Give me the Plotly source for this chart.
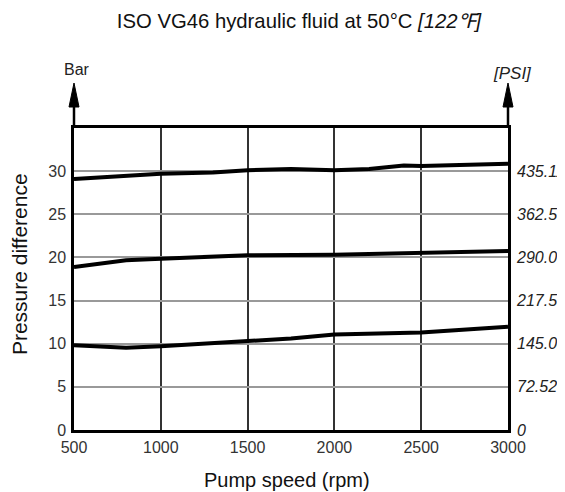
import plotly.graph_objects as go

# ---- data ----
speed_high = [500, 1000, 1300, 1500, 1750, 2000, 2200, 2400, 2500, 3000]
dp_high = [29.1, 29.7, 29.85, 30.1, 30.25, 30.1, 30.25, 30.65, 30.6, 30.85]

speed_mid = [500, 800, 1000, 1500, 2000, 2500, 3000]
dp_mid = [18.9, 19.67, 19.86, 20.25, 20.32, 20.52, 20.75]

speed_low = [500, 800, 1000, 1500, 1750, 2000, 2500, 3000]
dp_low = [9.83, 9.53, 9.72, 10.34, 10.6, 11.07, 11.3, 11.96]

x_ticks = [500, 1000, 1500, 2000, 2500, 3000]
bar_ticks = [0, 5, 10, 15, 20, 25, 30]
psi_labels = ["0", "72.52", "145.04", "217.56", "290.08", "362.59", "435.11"]

FONT = "Liberation Sans, Arial, Helvetica, sans-serif"

# the page has an 8px body margin, so the figure is 8px smaller than the window
W, H = 557, 484
ML, MT, PW, PH = 66, 120, 434, 302

fig = go.Figure()
for xs, ys in [(speed_high, dp_high), (speed_mid, dp_mid), (speed_low, dp_low)]:
    fig.add_trace(go.Scatter(x=xs, y=ys, mode="lines",
                             line=dict(color="#000000", width=4),
                             showlegend=False, hoverinfo="skip"))
# invisible trace so the PSI axis is drawn
fig.add_trace(go.Scatter(x=[x_ticks[0]], y=[bar_ticks[0]], yaxis="y2", mode="markers",
                         marker=dict(opacity=0), showlegend=False, hoverinfo="skip"))

fig.update_layout(
    width=W, height=H,
    margin=dict(l=ML, r=W - ML - PW, t=MT, b=H - MT - PH, autoexpand=False),
    paper_bgcolor="white", plot_bgcolor="white",
    font=dict(family=FONT, color="#222"),
    title=dict(text="ISO VG46 hydraulic fluid at 50°C <i>[122℉]</i>",
               font=dict(size=20.3, color="#111"),
               x=291 / W, xref="container", xanchor="center",
               y=1 - 13 / H, yref="container", yanchor="middle"),
    xaxis=dict(range=[500, 3000], tickvals=x_ticks, ticks="",
               showgrid=True, gridcolor="#333", gridwidth=1.5,
               showline=True, linecolor="#000", linewidth=2.5, mirror=True,
               tickfont=dict(size=16, color="#333"), zeroline=False,
               ticklabelstandoff=1, automargin=False),
    yaxis=dict(range=[0, 35], tickvals=bar_ticks, ticks="",
               showgrid=True, gridcolor="#999", gridwidth=2,
               showline=True, linecolor="#000", linewidth=2.5, mirror=True,
               tickfont=dict(size=16, color="#333"), zeroline=False,
               ticklabelstandoff=2, automargin=False),
    yaxis2=dict(range=[0, 35], overlaying="y", side="right",
                tickvals=bar_ticks, ticktext=psi_labels, ticks="",
                showgrid=False, showline=False, zeroline=False,
                tickfont=dict(size=16, color="#222", style="italic"),
                ticklabelstandoff=8, automargin=False),
)

# axis titles and unit labels
fig.add_annotation(text="Pump speed (rpm)", xref="paper", yref="paper",
                   x=0.491, y=-0.164, xanchor="center", yanchor="middle",
                   showarrow=False, font=dict(size=20, color="#111"))
fig.add_annotation(text="Pressure difference", xref="paper", yref="paper",
                   x=-0.1256, y=0.551, xanchor="center", yanchor="middle",
                   textangle=-90, showarrow=False, borderpad=0,
                   font=dict(size=21, color="#111"))
fig.add_annotation(text="Bar", xref="paper", yref="paper",
                   x=0.006, y=1.195, xanchor="center", yanchor="middle",
                   showarrow=False, font=dict(size=16, color="#222"))
fig.add_annotation(text="<i>[PSI]</i>", xref="paper", yref="paper",
                   x=1.0115, y=1.182, xanchor="center", yanchor="middle",
                   showarrow=False, font=dict(size=17, color="#222"))

# arrows on top of both vertical axes
base_y = (430 - 107) / 302
tip_y = (430 - 83) / 302
half_w = 5 / 434
for xp in (0, 1):
    fig.add_shape(type="line", xref="paper", yref="paper",
                  x0=xp, x1=xp, y0=1, y1=base_y + 0.005,
                  line=dict(color="#000", width=2.5))
    fig.add_shape(type="path", xref="paper", yref="paper",
                  path=f"M {xp - half_w} {base_y} L {xp + half_w} {base_y} L {xp} {tip_y} Z",
                  fillcolor="#000", line=dict(color="#000", width=1))

fig.write_html("out.html")
